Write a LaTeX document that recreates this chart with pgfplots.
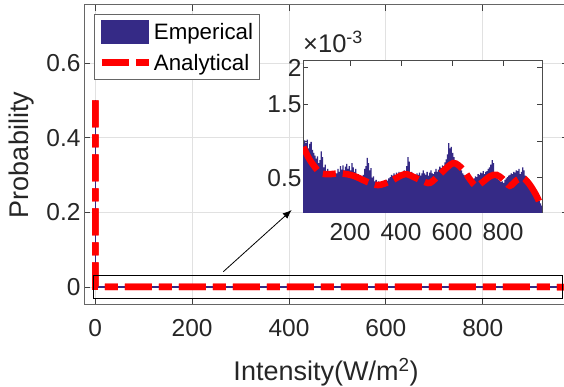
\documentclass[border=0pt]{standalone}
\usepackage{pgfplots}
\pgfplotsset{compat=1.18}
\usepackage{pgfplotstable}
\usepackage{fontspec}
\setmainfont{Liberation Sans}
\usetikzlibrary{arrows.meta}
\definecolor{emp}{RGB}{53,42,134}
\definecolor{axgray}{RGB}{38,38,38}
\definecolor{gridgray}{RGB}{225,225,225}

\pgfplotstableread{
x h
15 0.95
20 1.01
25 0.97
30 1.02
35 0.90
40 0.96
45 0.99
50 0.88
55 0.84
60 0.80
65 0.76
70 0.79
75 0.70
80 0.74
85 0.86
90 0.78
95 0.64
100 0.68
105 0.58
110 0.62
115 0.54
120 0.57
125 0.55
130 0.59
135 0.52
140 0.55
145 0.56
150 0.62
155 0.58
160 0.66
165 0.61
170 0.67
175 0.60
180 0.65
185 0.69
190 0.62
195 0.66
200 0.60
205 0.70
210 0.64
215 0.58
220 0.62
225 0.52
230 0.55
235 0.50
240 0.53
245 0.49
250 0.54
255 0.62
260 0.66
265 0.77
270 0.70
275 0.60
280 0.63
285 0.50
290 0.52
295 0.45
300 0.47
305 0.43
310 0.45
315 0.41
320 0.44
325 0.42
330 0.45
335 0.44
340 0.47
345 0.46
350 0.49
355 0.51
360 0.54
365 0.53
370 0.56
375 0.54
380 0.57
385 0.55
390 0.58
395 0.53
400 0.57
405 0.56
410 0.60
415 0.58
420 0.66
425 0.78
430 0.72
435 0.55
440 0.58
445 0.51
450 0.54
455 0.52
460 0.56
465 0.54
470 0.57
475 0.53
480 0.56
485 0.60
490 0.56
495 0.54
500 0.58
505 0.53
510 0.57
515 0.60
520 0.56
525 0.55
530 0.58
535 0.62
540 0.58
545 0.61
550 0.65
555 0.63
560 0.67
565 0.66
570 0.71
575 0.75
580 0.82
585 0.97
590 0.90
595 0.92
600 0.84
605 0.78
610 0.74
615 0.71
620 0.68
625 0.67
630 0.64
635 0.60
640 0.56
645 0.54
650 0.52
655 0.50
660 0.51
665 0.47
670 0.49
675 0.45
680 0.47
685 0.49
690 0.52
695 0.51
700 0.55
705 0.54
710 0.57
715 0.56
720 0.59
725 0.55
730 0.58
735 0.59
740 0.62
745 0.64
750 0.68
755 0.74
760 0.70
765 0.56
770 0.54
775 0.49
780 0.47
785 0.46
790 0.44
795 0.45
800 0.43
805 0.47
810 0.49
815 0.51
820 0.53
825 0.54
830 0.56
835 0.55
840 0.58
845 0.57
850 0.60
855 0.59
860 0.62
865 0.55
870 0.58
875 0.64
880 0.60
885 0.53
890 0.50
895 0.45
900 0.43
905 0.41
910 0.39
915 0.36
920 0.33
925 0.29
930 0.26
935 0.21
940 0.18
945 0.15
950 0.12
955 0.12
}\hist

\pgfplotstableread{
x a
17 0.92
43 0.74
82 0.57
120 0.55
161 0.56
200 0.54
226 0.51
270 0.44
311 0.40
357 0.45
400 0.53
422 0.55
450 0.51
481 0.46
514 0.43
553 0.55
605 0.70
644 0.61
670 0.48
697 0.39
749 0.52
775 0.54
800 0.48
827 0.39
855 0.47
879 0.50
906 0.40
932 0.25
951 0.10
}\ana

\begin{document}
\begin{tikzpicture}
\tikzset{reddash/.style={red, line width=6.5pt, dash pattern=on 27pt off 7pt on 13pt off 7pt}}
\begin{axis}[
  at={(84pt,82pt)}, anchor=south west, scale only axis,
  width=484pt, height=300pt,
  xmin=-23.3, xmax=976, ymin=-0.048, ymax=0.755,
  xtick={0,200,400,600,800}, ytick={0,0.2,0.4,0.6},
  grid=major, major grid style={gridgray, line width=0.8pt},
  tick align=inside, major tick length=6pt,
  axis line style={black!60, line width=1pt},
  tick style={black!75, line width=0.8pt},
  /pgf/number format/assume math mode=true,
  ticklabel style={font=\fontsize{24.5}{28}\selectfont, text=axgray},
  xticklabel style={yshift=-11pt},
  xlabel={Intensity(W/m\textsuperscript{2})}, ylabel={Probability},
  label style={font=\fontsize{27}{31}\selectfont, text=axgray},
  xlabel style={at={(axis description cs:0.5,0)}, anchor=center, yshift=-67pt},
  ylabel style={at={([xshift=-62pt]axis description cs:0,0.5)}, anchor=center},
  legend style={at={(axis description cs:0,1)}, anchor=north west,
    xshift=10pt, yshift=-9pt, draw=black!60, line width=0.8pt, fill=white,
    font=\fontsize{22.3}{26}\selectfont, text=black,
    inner xsep=4pt, inner ysep=6pt, row sep=7.5pt,
    nodes={inner sep=2pt}},
  legend cell align=left,
]
\addplot[const plot, fill=emp, draw=emp, line width=1pt,
  legend image code/.code={\fill[emp] (0pt,-11.5pt) rectangle (46.6pt,11.5pt);}]
  table[x=x, y expr=\thisrow{h}/1000] {\hist} \closedcycle;
\addlegendentry{Emperical}
\addplot[reddash,
  legend image code/.code={\draw[red, line width=6.5pt, dash pattern=on 27pt off 7.5pt on 12.5pt off 7pt] (0pt,0pt) -- (47pt,0pt);}]
  coordinates {(0,0.5) (0,0.0009) (100,0.0006) (400,0.0005) (800,0.0005) (980,0.0001)};
\addlegendentry{Analytical}
\addplot[emp, line width=1.2pt, forget plot] coordinates {(0,0.5) (0,0) (980,0)};
\addplot[reddash, forget plot] coordinates {(0,0.5) (0,0.0009) (100,0.0006) (400,0.0005) (800,0.0005) (980,0.0001)};
\draw[black, line width=1.2pt] (axis cs:-3,-0.03) rectangle (axis cs:964,0.03);
\end{axis}

\draw[-{Latex[length=9pt,width=7pt]}, black, line width=0.8pt] (223.3pt,115.3pt) -- (291.7pt,177pt);

\begin{axis}[
  at={(303pt,174pt)}, anchor=south west, scale only axis,
  width=239pt, height=152pt,
  xmin=15.7, xmax=953, ymin=0.02, ymax=2.09,
  xtick={200,400,600,800}, ytick={0.5,1,1.5,2},
  yticklabels={0.5,,1.5,2},
  axis background/.style={fill=white},
  tick align=inside, major tick length=5pt,
  axis line style={black!70, line width=1pt},
  tick style={black!75, line width=0.8pt},
  /pgf/number format/assume math mode=true,
  ticklabel style={font=\fontsize{24.5}{28}\selectfont, text=axgray},
  xticklabel style={yshift=-7pt},
  yticklabel style={xshift=2pt},
  title={×10\textsuperscript{-3}},
  title style={at={(rel axis cs:0,1)}, anchor=south west, inner sep=0pt, yshift=2pt,
    font=\fontsize{25.5}{29}\selectfont, text=axgray},
]
\addplot[const plot, fill=emp, draw=none] table[x=x, y=h] {\hist} \closedcycle;
\addplot[red, line width=6.5pt, dash pattern=on 27pt off 7pt on 13pt off 7pt, smooth] table[x=x, y=a] {\ana};
\end{axis}
\pgfresetboundingbox
\path[use as bounding box] (0,0) rectangle (564pt,387pt);
\end{tikzpicture}
\end{document}
